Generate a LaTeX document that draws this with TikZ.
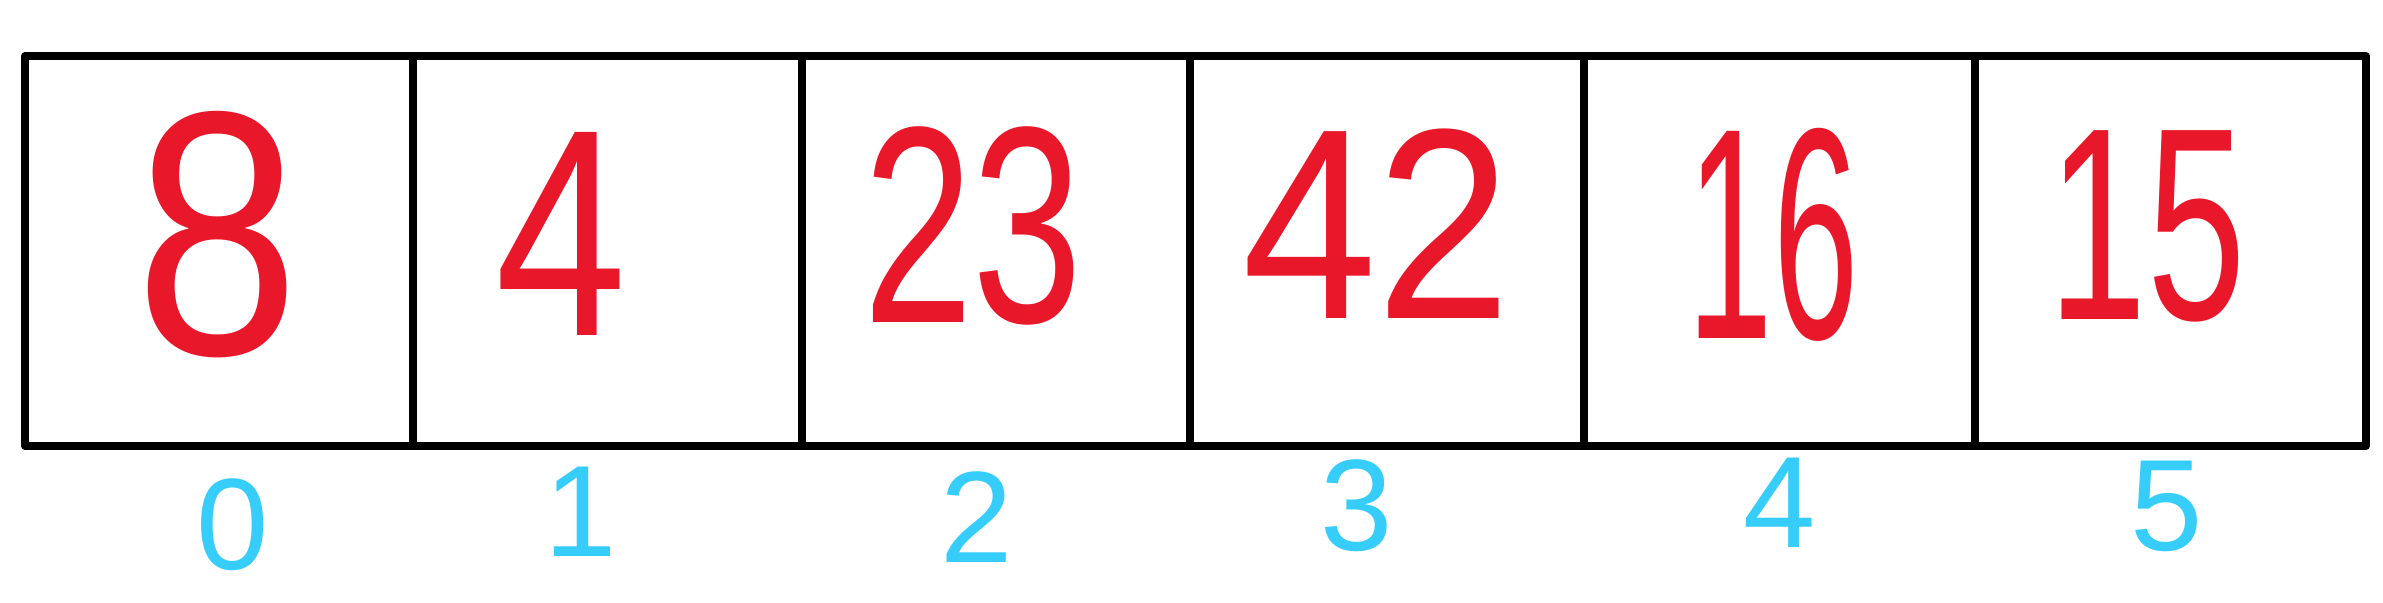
\documentclass[tikz,border=0pt]{standalone}
\usepackage{fontspec}
\setmainfont{Liberation Sans}
\definecolor{numred}{HTML}{E8172A}
\definecolor{idxblue}{HTML}{36CDFA}
\begin{document}
\begin{tikzpicture}[x=0.1mm,y=-0.1mm,
  cellbox/.style={draw=black,line width=2.3pt,line join=round,inner sep=0pt,minimum height=39mm},
  num/.style={text=numred,inner sep=0pt,font=\fontsize{84}{84}\selectfont},
  idx/.style={text=idxblue,inner sep=0pt,font=\fontsize{37}{37}\selectfont}]
\useasboundingbox (0,0) rectangle (2383,602);
% cells: boundaries 25,413,802,1190,1584,1975,2366 ; top 56, bottom 446
\foreach \l/\r [count=\i from 0] in {25/413,413/802,802/1190,1190/1584,1584/1975,1975/2366}{
  \pgfmathsetmacro\w{(\r-\l)*0.1}
  \node[cellbox,minimum width=\w mm] (c\i) at ({(\l+\r)/2},251) {};
}
% values
\foreach \v/\x/\y/\s/\t [count=\i from 0] in {8/218/235/1.0/1.18,4/561/234/0.8/1.0,23/973/226/0.67/0.95,42/1377/224/0.82/0.92,16/1773/235/0.52/1.02,15/2147/226/0.6/0.93}{
  \node[num] (v\i) at (\x,\y) {\scalebox{\s}[\t]{\v}};
}
% indices
\foreach \x/\y [count=\i from 0] in {233/525,581/512,977/517,1357/506,1780/503,2167/506}{
  \node[idx] (i\i) at (\x,\y) {\i};
}
\end{tikzpicture}
\end{document}
